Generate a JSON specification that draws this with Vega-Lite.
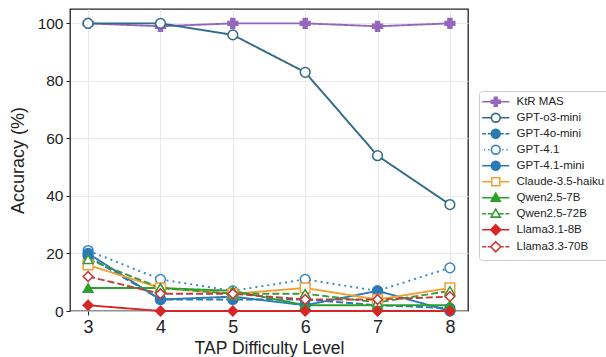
{
  "$schema": "https://vega.github.io/schema/vega-lite/v6.json",
  "width": 398,
  "height": 302,
  "autosize": "none",
  "padding": {"left": 70, "top": 9, "right": 138, "bottom": 46},
  "background": "white",
  "config": {
    "font": "Liberation Sans",
    "view": {"stroke": "#222", "strokeWidth": 1.3},
    "axis": {
      "domain": false,
      "grid": true,
      "gridColor": "#e3e3e3",
      "gridWidth": 0.8,
      "tickColor": "#222",
      "tickSize": 4,
      "tickWidth": 1,
      "labelColor": "#222",
      "titleColor": "#222",
      "labelFont": "Liberation Sans",
      "titleFont": "Liberation Sans",
      "titleFontWeight": "normal"
    }
  },
  "data": {
    "values": [
      {"model": "KtR MAS", "level": 3, "acc": 100}, {"model": "KtR MAS", "level": 4, "acc": 99}, {"model": "KtR MAS", "level": 5, "acc": 100}, {"model": "KtR MAS", "level": 6, "acc": 100}, {"model": "KtR MAS", "level": 7, "acc": 99}, {"model": "KtR MAS", "level": 8, "acc": 100},
      {"model": "GPT-o3-mini", "level": 3, "acc": 100}, {"model": "GPT-o3-mini", "level": 4, "acc": 100}, {"model": "GPT-o3-mini", "level": 5, "acc": 96}, {"model": "GPT-o3-mini", "level": 6, "acc": 83}, {"model": "GPT-o3-mini", "level": 7, "acc": 54}, {"model": "GPT-o3-mini", "level": 8, "acc": 37},
      {"model": "GPT-4o-mini", "level": 3, "acc": 19}, {"model": "GPT-4o-mini", "level": 4, "acc": 4}, {"model": "GPT-4o-mini", "level": 5, "acc": 4}, {"model": "GPT-4o-mini", "level": 6, "acc": 4}, {"model": "GPT-4o-mini", "level": 7, "acc": 2}, {"model": "GPT-4o-mini", "level": 8, "acc": 1},
      {"model": "GPT-4.1", "level": 3, "acc": 21}, {"model": "GPT-4.1", "level": 4, "acc": 11}, {"model": "GPT-4.1", "level": 5, "acc": 7}, {"model": "GPT-4.1", "level": 6, "acc": 11}, {"model": "GPT-4.1", "level": 7, "acc": 7}, {"model": "GPT-4.1", "level": 8, "acc": 15},
      {"model": "GPT-4.1-mini", "level": 3, "acc": 20}, {"model": "GPT-4.1-mini", "level": 4, "acc": 4}, {"model": "GPT-4.1-mini", "level": 5, "acc": 5}, {"model": "GPT-4.1-mini", "level": 6, "acc": 2}, {"model": "GPT-4.1-mini", "level": 7, "acc": 7}, {"model": "GPT-4.1-mini", "level": 8, "acc": 0},
      {"model": "Claude-3.5-haiku", "level": 3, "acc": 16}, {"model": "Claude-3.5-haiku", "level": 4, "acc": 8}, {"model": "Claude-3.5-haiku", "level": 5, "acc": 6}, {"model": "Claude-3.5-haiku", "level": 6, "acc": 8}, {"model": "Claude-3.5-haiku", "level": 7, "acc": 4}, {"model": "Claude-3.5-haiku", "level": 8, "acc": 8},
      {"model": "Qwen2.5-7B", "level": 3, "acc": 8}, {"model": "Qwen2.5-7B", "level": 4, "acc": 8}, {"model": "Qwen2.5-7B", "level": 5, "acc": 7}, {"model": "Qwen2.5-7B", "level": 6, "acc": 2}, {"model": "Qwen2.5-7B", "level": 7, "acc": 2}, {"model": "Qwen2.5-7B", "level": 8, "acc": 2},
      {"model": "Qwen2.5-72B", "level": 3, "acc": 18}, {"model": "Qwen2.5-72B", "level": 4, "acc": 8}, {"model": "Qwen2.5-72B", "level": 5, "acc": 6}, {"model": "Qwen2.5-72B", "level": 6, "acc": 6}, {"model": "Qwen2.5-72B", "level": 7, "acc": 3}, {"model": "Qwen2.5-72B", "level": 8, "acc": 7},
      {"model": "Llama3.1-8B", "level": 3, "acc": 2}, {"model": "Llama3.1-8B", "level": 4, "acc": 0}, {"model": "Llama3.1-8B", "level": 5, "acc": 0}, {"model": "Llama3.1-8B", "level": 6, "acc": 0}, {"model": "Llama3.1-8B", "level": 7, "acc": 0}, {"model": "Llama3.1-8B", "level": 8, "acc": 0},
      {"model": "Llama3.3-70B", "level": 3, "acc": 12}, {"model": "Llama3.3-70B", "level": 4, "acc": 6}, {"model": "Llama3.3-70B", "level": 5, "acc": 6}, {"model": "Llama3.3-70B", "level": 6, "acc": 4}, {"model": "Llama3.3-70B", "level": 7, "acc": 4}, {"model": "Llama3.3-70B", "level": 8, "acc": 5}
    ]
  },
  "encoding": {
    "x": {
      "field": "level", "type": "quantitative",
      "scale": {"domain": [2.75, 8.25], "nice": false, "zero": false},
      "axis": {"values": [3, 4, 5, 6, 7, 8], "format": "d", "title": "TAP Difficulty Level", "labelFontSize": 18, "titleFontSize": 17.5, "labelPadding": 3, "titlePadding": 3}
    },
    "y": {
      "field": "acc", "type": "quantitative",
      "scale": {"domain": [0, 105], "nice": false},
      "axis": {"values": [0, 20, 40, 60, 80, 100], "title": "Accuracy (%)", "labelFontSize": 15.5, "titleFontSize": 18, "labelPadding": 3, "titlePadding": 10}
    }
  },
  "resolve": {"scale": {"shape": "independent", "stroke": "independent", "fill": "independent"}},
  "layer": [
    {
      "mark": {"type": "line", "strokeWidth": 1.9},
      "encoding": {
        "color": {
          "field": "model", "type": "nominal", "legend": null,
          "scale": {
            "domain": ["KtR MAS", "GPT-o3-mini", "GPT-4o-mini", "GPT-4.1", "GPT-4.1-mini", "Claude-3.5-haiku", "Qwen2.5-7B", "Qwen2.5-72B", "Llama3.1-8B", "Llama3.3-70B"],
            "range": ["#9467bd", "#2f6b88", "#2a79b2", "#3a86bf", "#2a7ab8", "#f0a035", "#2ca02c", "#3a9a3a", "#d62728", "#c53a3a"]
          }
        },
        "strokeDash": {
          "field": "model", "type": "nominal", "legend": null,
          "scale": {
            "domain": ["KtR MAS", "GPT-o3-mini", "GPT-4o-mini", "GPT-4.1", "GPT-4.1-mini", "Claude-3.5-haiku", "Qwen2.5-7B", "Qwen2.5-72B", "Llama3.1-8B", "Llama3.3-70B"],
            "range": [[1, 0], [1, 0], [7, 3], [2, 4], [1, 0], [1, 0], [1, 0], [7, 3], [1, 0], [7, 3]]
          }
        }
      }
    },
    {
      "mark": {"type": "point", "filled": false, "opacity": 1, "strokeWidth": 1.5, "size": 95},
      "encoding": {
        "stroke": {
          "field": "model", "type": "nominal", "legend": null,
          "scale": {
            "domain": ["KtR MAS", "GPT-o3-mini", "GPT-4o-mini", "GPT-4.1", "GPT-4.1-mini", "Claude-3.5-haiku", "Qwen2.5-7B", "Qwen2.5-72B", "Llama3.1-8B", "Llama3.3-70B"],
            "range": ["#9467bd", "#2f6b88", "#2a79b2", "#3a86bf", "#2a7ab8", "#f0a035", "#2ca02c", "#3a9a3a", "#d62728", "#c53a3a"]
          }
        },
        "fill": {
          "field": "model", "type": "nominal", "legend": null,
          "scale": {
            "domain": ["KtR MAS", "GPT-o3-mini", "GPT-4o-mini", "GPT-4.1", "GPT-4.1-mini", "Claude-3.5-haiku", "Qwen2.5-7B", "Qwen2.5-72B", "Llama3.1-8B", "Llama3.3-70B"],
            "range": ["#9467bd", "#ffffff", "#2a79b2", "#ffffff", "#2a7ab8", "#ffffff", "#2ca02c", "#ffffff", "#d62728", "#ffffff"]
          }
        },
        "shape": {
          "field": "model", "type": "nominal", "legend": null,
          "scale": {
            "domain": ["KtR MAS", "GPT-o3-mini", "GPT-4o-mini", "GPT-4.1", "GPT-4.1-mini", "Claude-3.5-haiku", "Qwen2.5-7B", "Qwen2.5-72B", "Llama3.1-8B", "Llama3.3-70B"],
            "range": ["cross", "circle", "circle", "circle", "circle", "square", "triangle-up", "triangle-up", "diamond", "diamond"]
          }
        }
      }
    },
    {
      "transform": [{"filter": "datum.acc > 1000"}],
      "mark": {"type": "point", "filled": false, "opacity": 1, "strokeWidth": 1.5},
      "encoding": {
        "stroke": {
          "field": "model", "type": "nominal",
          "scale": {
            "domain": ["KtR MAS", "GPT-o3-mini", "GPT-4o-mini", "GPT-4.1", "GPT-4.1-mini", "Claude-3.5-haiku", "Qwen2.5-7B", "Qwen2.5-72B", "Llama3.1-8B", "Llama3.3-70B"],
            "range": ["#9467bd", "#2f6b88", "#2a79b2", "#3a86bf", "#2a7ab8", "#f0a035", "#2ca02c", "#3a9a3a", "#d62728", "#c53a3a"]
          },
          "legend": {
            "title": null, "orient": "none", "legendX": 409, "legendY": 82,
            "padding": 5, "symbolSize": 64, "symbolStrokeWidth": 1.6,
            "labelFontSize": 11.5, "labelFont": "Liberation Sans", "labelColor": "#222",
            "labelOffset": 21, "rowPadding": 0,
            "strokeColor": "#cccccc", "fillColor": "#ffffff", "cornerRadius": 3
          }
        },
        "fill": {
          "field": "model", "type": "nominal",
          "scale": {
            "domain": ["KtR MAS", "GPT-o3-mini", "GPT-4o-mini", "GPT-4.1", "GPT-4.1-mini", "Claude-3.5-haiku", "Qwen2.5-7B", "Qwen2.5-72B", "Llama3.1-8B", "Llama3.3-70B"],
            "range": ["#9467bd", "#ffffff", "#2a79b2", "#ffffff", "#2a7ab8", "#ffffff", "#2ca02c", "#ffffff", "#d62728", "#ffffff"]
          },
          "legend": {
            "title": null, "orient": "none", "legendX": 409, "legendY": 82,
            "padding": 5, "symbolSize": 64, "symbolStrokeWidth": 1.6,
            "labelFontSize": 11.5, "labelFont": "Liberation Sans", "labelColor": "#222",
            "labelOffset": 21, "rowPadding": 0,
            "strokeColor": "#cccccc", "fillColor": "#ffffff", "cornerRadius": 3
          }
        },
        "shape": {
          "field": "model", "type": "nominal",
          "scale": {
            "domain": ["KtR MAS", "GPT-o3-mini", "GPT-4o-mini", "GPT-4.1", "GPT-4.1-mini", "Claude-3.5-haiku", "Qwen2.5-7B", "Qwen2.5-72B", "Llama3.1-8B", "Llama3.3-70B"],
            "range": [
              "M1.15,-1.1H1.85V-0.35H2.6V0.35H1.85V1.1H1.15V0.35H0.4V-0.35H1.15Z M-1.9,0H0.4 M2.6,0H4.9",
              "M0.4,0A1.1,1.1 0 1,0 2.6,0A1.1,1.1 0 1,0 0.4,0Z M-1.9,0H0.4 M2.6,0H4.9",
              "M0.4,0A1.1,1.1 0 1,0 2.6,0A1.1,1.1 0 1,0 0.4,0Z M-1.9,0H-0.9 M-0.5,0H0.4 M2.6,0H3.5 M3.9,0H4.9",
              "M0.4,0A1.1,1.1 0 1,0 2.6,0A1.1,1.1 0 1,0 0.4,0Z M-1.5,0H-1.15 M-0.45,0H-0.1 M3.1,0H3.45 M4.15,0H4.5",
              "M0.4,0A1.1,1.1 0 1,0 2.6,0A1.1,1.1 0 1,0 0.4,0Z M-1.9,0H0.4 M2.6,0H4.9",
              "M0.5,-1H2.5V1H0.5Z M-1.9,0H0.5 M2.5,0H4.9",
              "M1.5,-1.15L2.65,0.85H0.35Z M-1.9,0H0.85 M2.15,0H4.9",
              "M1.5,-1.15L2.65,0.85H0.35Z M-1.9,0H-0.9 M-0.5,0H0.85 M2.15,0H3.5 M3.9,0H4.9",
              "M1.5,-1.25L2.75,0L1.5,1.25L0.25,0Z M-1.9,0H0.25 M2.75,0H4.9",
              "M1.5,-1.25L2.75,0L1.5,1.25L0.25,0Z M-1.9,0H-0.9 M-0.5,0H0.25 M2.75,0H3.5 M3.9,0H4.9"
            ]
          },
          "legend": {
            "title": null, "orient": "none", "legendX": 409, "legendY": 82,
            "padding": 5, "symbolSize": 64, "symbolStrokeWidth": 1.6,
            "labelFontSize": 11.5, "labelFont": "Liberation Sans", "labelColor": "#222",
            "labelOffset": 21, "rowPadding": 0,
            "strokeColor": "#cccccc", "fillColor": "#ffffff", "cornerRadius": 3
          }
        }
      }
    }
  ]
}
